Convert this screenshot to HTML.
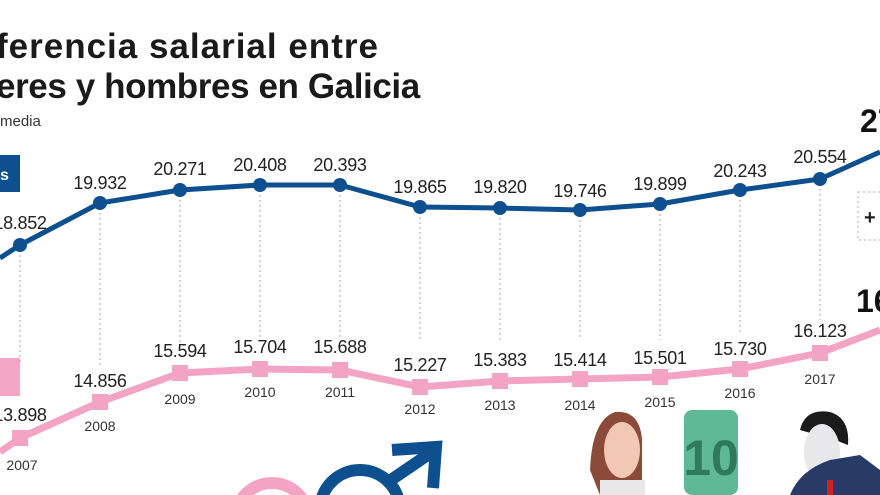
<!DOCTYPE html>
<html><head><meta charset="utf-8"><style>
html,body{margin:0;padding:0;background:#fff;width:880px;height:495px;overflow:hidden}
svg{display:block;overflow:hidden}
text{font-family:"Liberation Sans",sans-serif}
</style></head><body>
<svg width="880" height="495" viewBox="0 0 880 495">
<rect width="880" height="495" fill="#fff"/>
<text x="-4" y="58" font-size="35" font-weight="bold" fill="#1a1a1a" letter-spacing="1">ferencia salarial entre</text>
<text x="-4" y="98" font-size="35" font-weight="bold" fill="#1a1a1a" letter-spacing="-0.4">eres y hombres en Galicia</text>
<text x="0" y="126" font-size="15" fill="#333">media</text>
<rect x="0" y="155" width="20" height="37" fill="#0d4f8f"/>
<text x="0" y="180" font-size="16" font-weight="bold" fill="#fff">s</text>
<rect x="0" y="358" width="20" height="38" fill="#f4a6c6"/>
<g stroke="#aaa" stroke-width="1" stroke-dasharray="2,3">
<line x1="20" y1="245" x2="20" y2="365"/>
<line x1="100" y1="203" x2="100" y2="365"/>
<line x1="180" y1="190" x2="180" y2="345"/>
<line x1="260" y1="185" x2="260" y2="340"/>
<line x1="340" y1="185" x2="340" y2="340"/>
<line x1="420" y1="207" x2="420" y2="342"/>
<line x1="500" y1="208" x2="500" y2="342"/>
<line x1="580" y1="210" x2="580" y2="340"/>
<line x1="660" y1="204" x2="660" y2="340"/>
<line x1="740" y1="190" x2="740" y2="335"/>
<line x1="820" y1="179" x2="820" y2="320"/>
</g>
<rect x="858" y="192" width="30" height="48" fill="none" stroke="#aaa" stroke-dasharray="2,3"/>
<text x="864" y="224" font-size="20" font-weight="bold" fill="#222">+</text>
<text x="860" y="132" font-size="32" font-weight="bold" fill="#111">27</text>
<text x="856" y="312" font-size="32" font-weight="bold" fill="#111">16</text>
<polyline fill="none" stroke="#0d4f8f" stroke-width="5" stroke-linejoin="round"
points="0,258 20,245 100,203 180,190 260,185 340,185 420,207 500,208 580,210 660,204 740,190 820,179 880,152"/>
<g fill="#0d4f8f">
<circle cx="20" cy="245" r="7"/><circle cx="100" cy="203" r="7"/><circle cx="180" cy="190" r="7"/>
<circle cx="260" cy="185" r="7"/><circle cx="340" cy="185" r="7"/><circle cx="420" cy="207" r="7"/>
<circle cx="500" cy="208" r="7"/><circle cx="580" cy="210" r="7"/><circle cx="660" cy="204" r="7"/>
<circle cx="740" cy="190" r="7"/><circle cx="820" cy="179" r="7"/>
</g>
<g font-size="18" fill="#222" text-anchor="middle" letter-spacing="-0.3">
<text x="20" y="229">18.852</text>
<text x="100" y="189">19.932</text>
<text x="180" y="175">20.271</text>
<text x="260" y="171">20.408</text>
<text x="340" y="171">20.393</text>
<text x="420" y="193">19.865</text>
<text x="500" y="193">19.820</text>
<text x="580" y="197">19.746</text>
<text x="660" y="190">19.899</text>
<text x="740" y="177">20.243</text>
<text x="820" y="163">20.554</text>
</g>
<polyline fill="none" stroke="#f3a3c4" stroke-width="7" stroke-linejoin="round"
points="0,452 20,438 100,402 180,373 260,369 340,370 420,387 500,381 580,379 660,377 740,369 820,353 880,330"/>
<g fill="#f3a3c4">
<rect x="12" y="430" width="16" height="16"/><rect x="92" y="394" width="16" height="16"/>
<rect x="172" y="365" width="16" height="16"/><rect x="252" y="361" width="16" height="16"/>
<rect x="332" y="362" width="16" height="16"/><rect x="412" y="379" width="16" height="16"/>
<rect x="492" y="373" width="16" height="16"/><rect x="572" y="371" width="16" height="16"/>
<rect x="652" y="369" width="16" height="16"/><rect x="732" y="361" width="16" height="16"/>
<rect x="812" y="345" width="16" height="16"/>
</g>
<g font-size="18" fill="#222" text-anchor="middle" letter-spacing="-0.3">
<text x="20" y="421">13.898</text>
<text x="100" y="387">14.856</text>
<text x="180" y="357">15.594</text>
<text x="260" y="353">15.704</text>
<text x="340" y="353">15.688</text>
<text x="420" y="371">15.227</text>
<text x="500" y="366">15.383</text>
<text x="580" y="366">15.414</text>
<text x="660" y="364">15.501</text>
<text x="740" y="355">15.730</text>
<text x="820" y="337">16.123</text>
</g>
<g font-size="14" fill="#333" text-anchor="middle">
<text x="22" y="470">2007</text>
<text x="100" y="431">2008</text>
<text x="180" y="404">2009</text>
<text x="260" y="397">2010</text>
<text x="340" y="397">2011</text>
<text x="420" y="414">2012</text>
<text x="500" y="410">2013</text>
<text x="580" y="410">2014</text>
<text x="660" y="407">2015</text>
<text x="740" y="398">2016</text>
<text x="820" y="384">2017</text>
</g>
<circle cx="272" cy="520" r="37" fill="none" stroke="#f3a3c4" stroke-width="12"/>
<circle cx="360" cy="510" r="40" fill="none" stroke="#0d4f8f" stroke-width="12"/>
<line x1="388" y1="482" x2="432" y2="452" stroke="#0d4f8f" stroke-width="12"/>
<polyline points="392,450 436,447 433,488" fill="none" stroke="#0d4f8f" stroke-width="12"/>
<path d="M600,495 L590,470 Q592,420 615,412 Q640,410 642,440 L642,495 Z" fill="#8c4a3a"/>
<ellipse cx="622" cy="450" rx="18" ry="28" fill="#f0c8b4"/>
<rect x="600" y="480" width="45" height="15" fill="#e8e8e8"/>
<rect x="684" y="410" width="54" height="85" rx="8" fill="#5fb897"/>
<text x="711" y="475" font-size="50" font-weight="bold" fill="#2f7a5c" text-anchor="middle">10</text>
<path d="M800,430 Q805,408 830,412 Q850,418 848,445 L835,440 Z" fill="#1b1b1b"/>
<ellipse cx="822" cy="452" rx="18" ry="28" fill="#e8e8ea"/>
<path d="M790,495 Q800,470 830,460 L860,455 L880,470 L880,495 Z" fill="#283a66"/>
<rect x="827" y="480" width="6" height="15" fill="#d0202a"/>
</svg>
</body></html>
